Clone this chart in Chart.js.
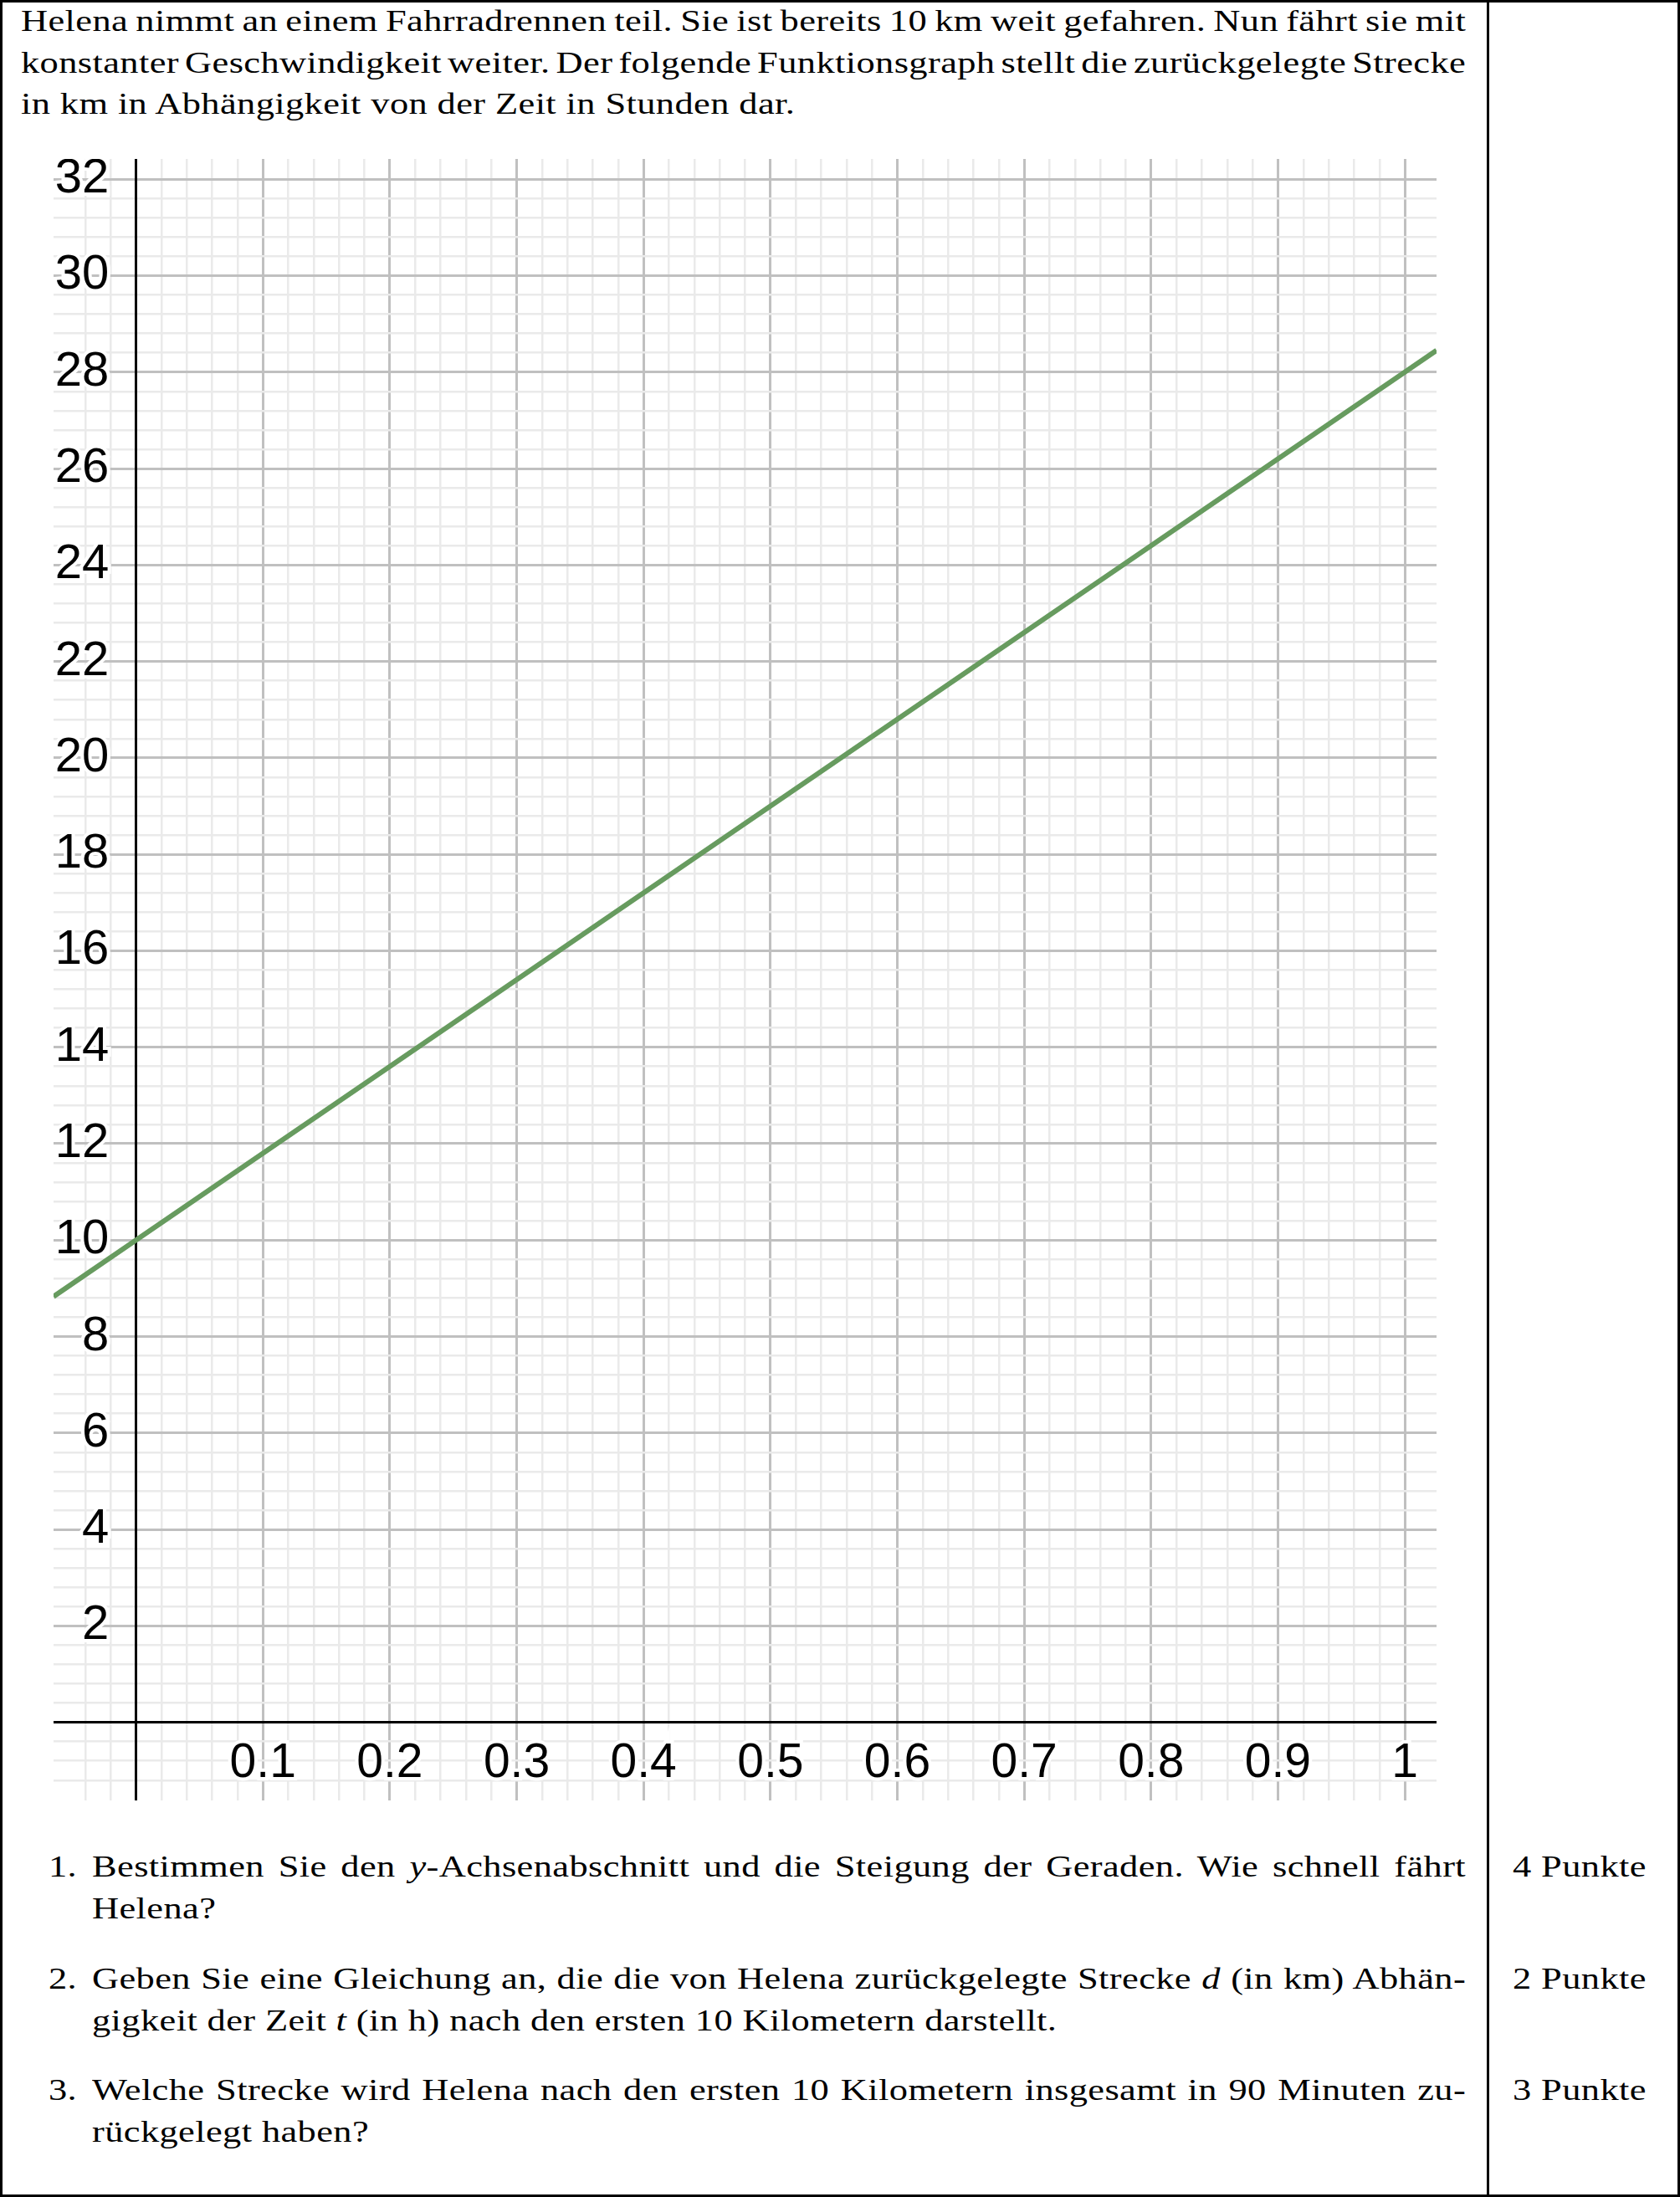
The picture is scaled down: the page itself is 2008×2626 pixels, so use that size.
<!DOCTYPE html>
<html>
<head>
<meta charset="utf-8">
<script src="https://cdn.jsdelivr.net/npm/chart.js@4.4.0/dist/chart.umd.min.js"></script>
<style>
  html, body { margin: 0; padding: 0; background: #fff; }
  #page { position: relative; width: 2008px; height: 2626px; overflow: hidden;
          font-family: "Liberation Serif", "Times New Roman", serif; font-size: 35px; color: #000; }
  #frame { position: absolute; left: 0; top: 0; right: 0; bottom: 0; border: 3px solid #000; }
  #divider { position: absolute; left: 1777px; top: 0; width: 3px; height: 2626px; background: #000; }
  .block { position: absolute; }
  /* die Schrift wird breiter gezogen, damit sie der LaTeX-Schrift naeher kommt */
  .ln { height: 50px; line-height: 50px; letter-spacing: 0.3px; white-space: nowrap;
        transform: scaleX(1.27); transform-origin: 0 0; }
  .full { text-align: justify; text-align-last: justify; white-space: normal; word-spacing: -6px; }
  .top .ln { height: 49.5px; line-height: 49.5px; width: 1360px; }
  .item .ln { width: 1293px; }
  .num { position: absolute; left: 58px; }
  .pts { position: absolute; left: 1808px; }
  #chartBox { position: absolute; left: 64px; top: 190px; width: 1653px; height: 1962px; }
</style>
</head>
<body>
<div id="page">
  <div class="block top" style="left:25px; top:1px;">
    <div class="ln full">Helena nimmt an einem Fahrradrennen teil. Sie ist bereits 10 km weit gefahren. Nun fährt sie mit</div>
    <div class="ln full">konstanter Geschwindigkeit weiter. Der folgende Funktionsgraph stellt die zurückgelegte Strecke</div>
    <div class="ln">in km in Abhängigkeit von der Zeit in Stunden dar.</div>
  </div>

  <div id="chartBox"><canvas id="chart" width="1653" height="1962"></canvas></div>

  <div class="num ln" style="top:2207px;">1.</div>
  <div class="block item" style="left:110px; top:2207px;">
    <div class="ln full">Bestimmen Sie den <i>y</i>-Achsenabschnitt und die Steigung der Geraden. Wie schnell fährt</div>
    <div class="ln">Helena?</div>
  </div>
  <div class="pts ln" style="top:2207px;">4 Punkte</div>

  <div class="num ln" style="top:2341px;">2.</div>
  <div class="block item" style="left:110px; top:2341px;">
    <div class="ln full">Geben Sie eine Gleichung an, die die von Helena zurückgelegte Strecke <i>d</i> (in km) Abhän-</div>
    <div class="ln">gigkeit der Zeit <i>t</i> (in h) nach den ersten 10 Kilometern darstellt.</div>
  </div>
  <div class="pts ln" style="top:2341px;">2 Punkte</div>

  <div class="num ln" style="top:2474px;">3.</div>
  <div class="block item" style="left:110px; top:2474px;">
    <div class="ln full">Welche Strecke wird Helena nach den ersten 10 Kilometern insgesamt in 90 Minuten zu-</div>
    <div class="ln">rückgelegt haben?</div>
  </div>
  <div class="pts ln" style="top:2474px;">3 Punkte</div>

  <div id="divider"></div>
  <div id="frame"></div>
</div>

<script>
const timeHours = [-0.065, 0, 1, 1.025];
const distanceKm = [8.83, 10, 28, 28.45];

const yTickLabels = ['2', '4', '6', '8', '10', '12', '14', '16', '18', '20', '22', '24', '26', '28', '30', '32'];
const xTickLabels = ['0.1', '0.2', '0.3', '0.4', '0.5', '0.6', '0.7', '0.8', '0.9', '1'];

const MAJOR = '#c0c0c0';
const MINOR = '#eaeaea';

function onStep(v, step) {
  const k = v / step;
  return Math.abs(k - Math.round(k)) < 1e-6;
}
function yLabel(v) { return String(Math.round(v * 10) / 10); }
function xLabel(v) { return String(Math.round(v * 100) / 100); }

// keine Randabstaende fuer die Achsen im Zeichenbereich
function noPadding(scale) {
  scale.paddingTop = 0;
  scale.paddingBottom = 0;
  scale.paddingLeft = 0;
  scale.paddingRight = 0;
}

const ctx = document.getElementById('chart').getContext('2d');

new Chart(ctx, {
  type: 'line',
  data: {
    datasets: [{
      data: timeHours.map((t, i) => ({ x: t, y: distanceKm[i] })),
      borderColor: '#679b5f',
      borderWidth: 6,
      pointRadius: 0,
      tension: 0,
      fill: false
    }]
  },
  options: {
    responsive: false,
    devicePixelRatio: 1,
    animation: false,
    layout: { padding: 0 },
    plugins: {
      legend: { display: false },
      tooltip: { enabled: false }
    },
    scales: {
      x: {
        type: 'linear',
        axis: 'x',
        position: { y: 0 },
        min: -0.065,
        max: 1.025,
        afterFit: noPadding,
        grid: {
          drawTicks: false,
          lineWidth: (c) => onStep(c.tick.value, 0.1) ? 3 : 2.5,
          color: (c) => {
            const v = c.tick.value;
            if (!onStep(v, 0.02)) return 'transparent';
            return onStep(v, 0.1) ? MAJOR : MINOR;
          }
        },
        border: { color: '#000', width: 3 },
        ticks: {
          stepSize: 0.02,
          autoSkip: false,
          maxRotation: 0,
          minRotation: 0,
          padding: 15,
          color: '#000',
          font: { family: '"Liberation Sans", Arial, sans-serif', size: 57 },
          textStrokeColor: '#fff',
          textStrokeWidth: 8,
          callback: (v) => xTickLabels.includes(xLabel(v)) ? xLabel(v) : ''
        }
      },
      y: {
        type: 'linear',
        axis: 'y',
        position: { x: 0 },
        min: -1.62,
        max: 32.42,
        afterFit: noPadding,
        grid: {
          drawTicks: false,
          lineWidth: (c) => onStep(c.tick.value, 2) ? 3 : 2.5,
          color: (c) => {
            const v = c.tick.value;
            if (!onStep(v, 0.4)) return 'transparent';
            return onStep(v, 2) ? MAJOR : MINOR;
          }
        },
        border: { color: '#000', width: 3 },
        ticks: {
          stepSize: 0.4,
          autoSkip: false,
          color: '#000',
          font: { family: '"Liberation Sans", Arial, sans-serif', size: 58 },
          textStrokeColor: '#fff',
          textStrokeWidth: 8,
          // zwei Leerzeichen als Abstand zur Achse
          callback: (v) => yTickLabels.includes(yLabel(v)) ? yLabel(v) + '\u0020\u0020' : ''
        }
      }
    }
  }
});
</script>
</body>
</html>
